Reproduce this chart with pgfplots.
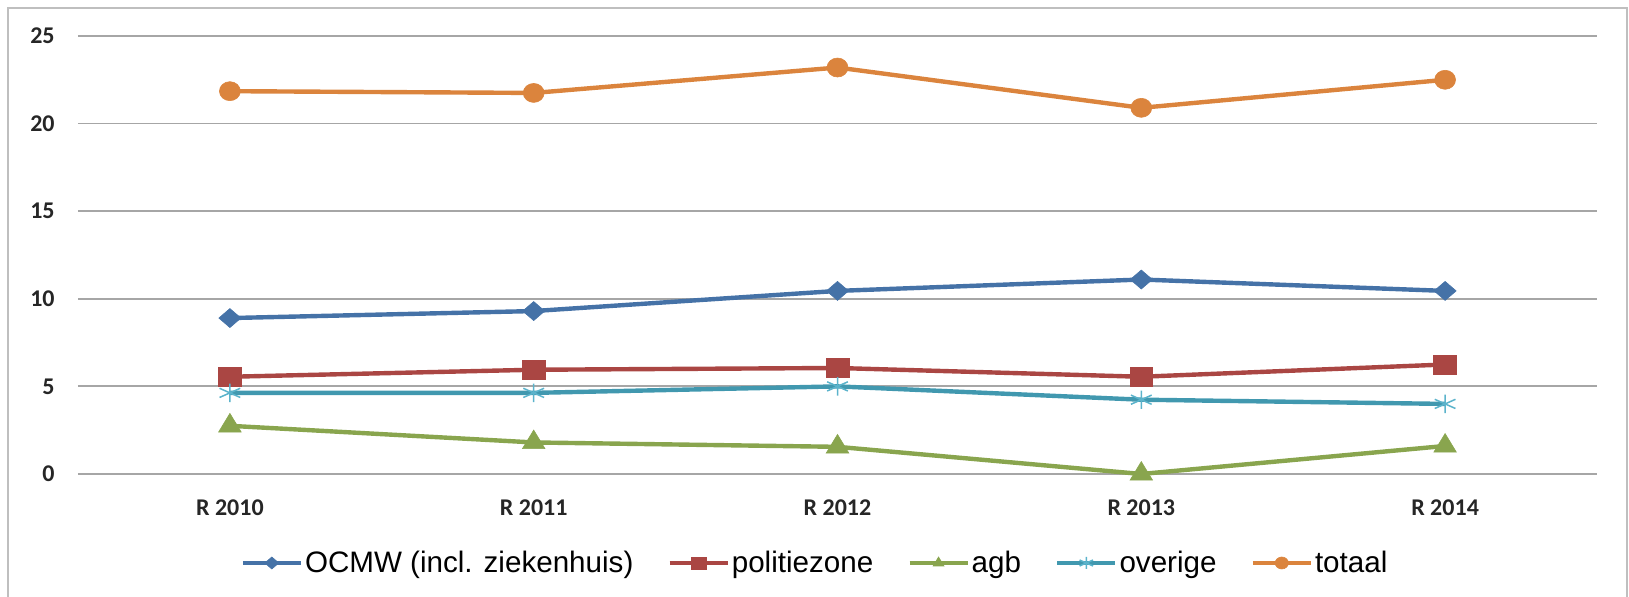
\documentclass[border=0pt]{standalone}
\usepackage{fontspec}
\setmainfont{Carlito}
\newfontfamily\legfont{Liberation Sans}
\usepackage{pgfplots}
\pgfplotsset{compat=1.18}
\definecolor{cOCMW}{HTML}{4572A7}
\definecolor{cPol}{HTML}{AA4643}
\definecolor{cAgb}{HTML}{89A54E}
\definecolor{cOver}{HTML}{4198AF}
\definecolor{cOverMark}{HTML}{5BB3CB}
\definecolor{cTot}{HTML}{DB843D}
\definecolor{gridc}{HTML}{A6A6A6}
\definecolor{framec}{HTML}{BFBFBF}
\begin{document}
\begin{tikzpicture}
\useasboundingbox (-39pt,-61.5pt) rectangle (775.5pt,237pt);
\draw[framec, line width=1pt] (-35pt,-65pt) -- (-35pt,233pt) -- (774.5pt,233pt) -- (774.5pt,-65pt);
\begin{axis}[
  at={(0pt,0pt)}, anchor=south west,
  scale only axis, width=759.5pt, height=219pt,
  xmin=-0.5, xmax=4.5, ymin=0, ymax=25,
  xtick={0,1,2,3,4}, xticklabels={R 2010, R 2011, R 2012, R 2013, R 2014},
  ytick={0,5,10,15,20,25},
  ymajorgrids, grid style={gridc, line width=0.9pt},
  axis line style={draw=none},
  major tick length=0pt,
  tick label style={font=\fontsize{12}{14}\selectfont\bfseries, text=black!85},
  xticklabel style={anchor=base, yshift=-20.75pt, inner sep=0pt},
  yticklabel style={anchor=east, xshift=-11.5pt, inner sep=0pt},
  /pgf/number format/assume math mode=true,
  clip=false,
  legend columns=5,
  legend style={draw=none, fill=none, at={(0.4852,-0.2032)}, anchor=center,
    font=\legfont\fontsize{14.8}{17}\selectfont,
    /tikz/every even column/.append style={column sep=16pt},
    inner sep=0pt, nodes={inner sep=1pt}},
  legend image code/.code={\draw[mark repeat=2, mark phase=2, #1, mark size=3pt] plot coordinates {(0pt,0pt) (14.5pt,0pt) (29pt,0pt)};},
  every axis plot/.append style={line width=2.2pt},
]
\addplot[cOCMW, mark=diamond*, mark size=4.75pt, mark options={solid, line width=0.3pt, xscale=1.55}]
  coordinates {(0,8.9) (1,9.3) (2,10.45) (3,11.1) (4,10.45)};
\addlegendentry{OCMW (incl. ziekenhuis)}
\addplot[cPol, mark=square*, mark size=4.75pt, mark options={solid, line width=0.3pt, xscale=1.2}]
  coordinates {(0,5.55) (1,5.95) (2,6.05) (3,5.55) (4,6.25)};
\addlegendentry{politiezone}
\addplot[cAgb, mark=triangle*, mark size=6.2pt, mark options={solid, line width=0.3pt, xscale=1.05}]
  coordinates {(0,2.75) (1,1.8) (2,1.55) (3,0.0) (4,1.6)};
\addlegendentry{agb}
\addplot[cOver, mark=asterisk, mark size=4.6pt, mark options={solid, line width=0.75pt, draw=cOverMark, xscale=1.3}]
  coordinates {(0,4.63) (1,4.63) (2,5.0) (3,4.24) (4,4.0)};
\addlegendentry{overige}
\addplot[cTot, mark=*, mark size=4.75pt, mark options={solid, line width=0.3pt, xscale=1.1}]
  coordinates {(0,21.85) (1,21.75) (2,23.2) (3,20.9) (4,22.5)};
\addlegendentry{totaal}
\end{axis}
\end{tikzpicture}
\end{document}
